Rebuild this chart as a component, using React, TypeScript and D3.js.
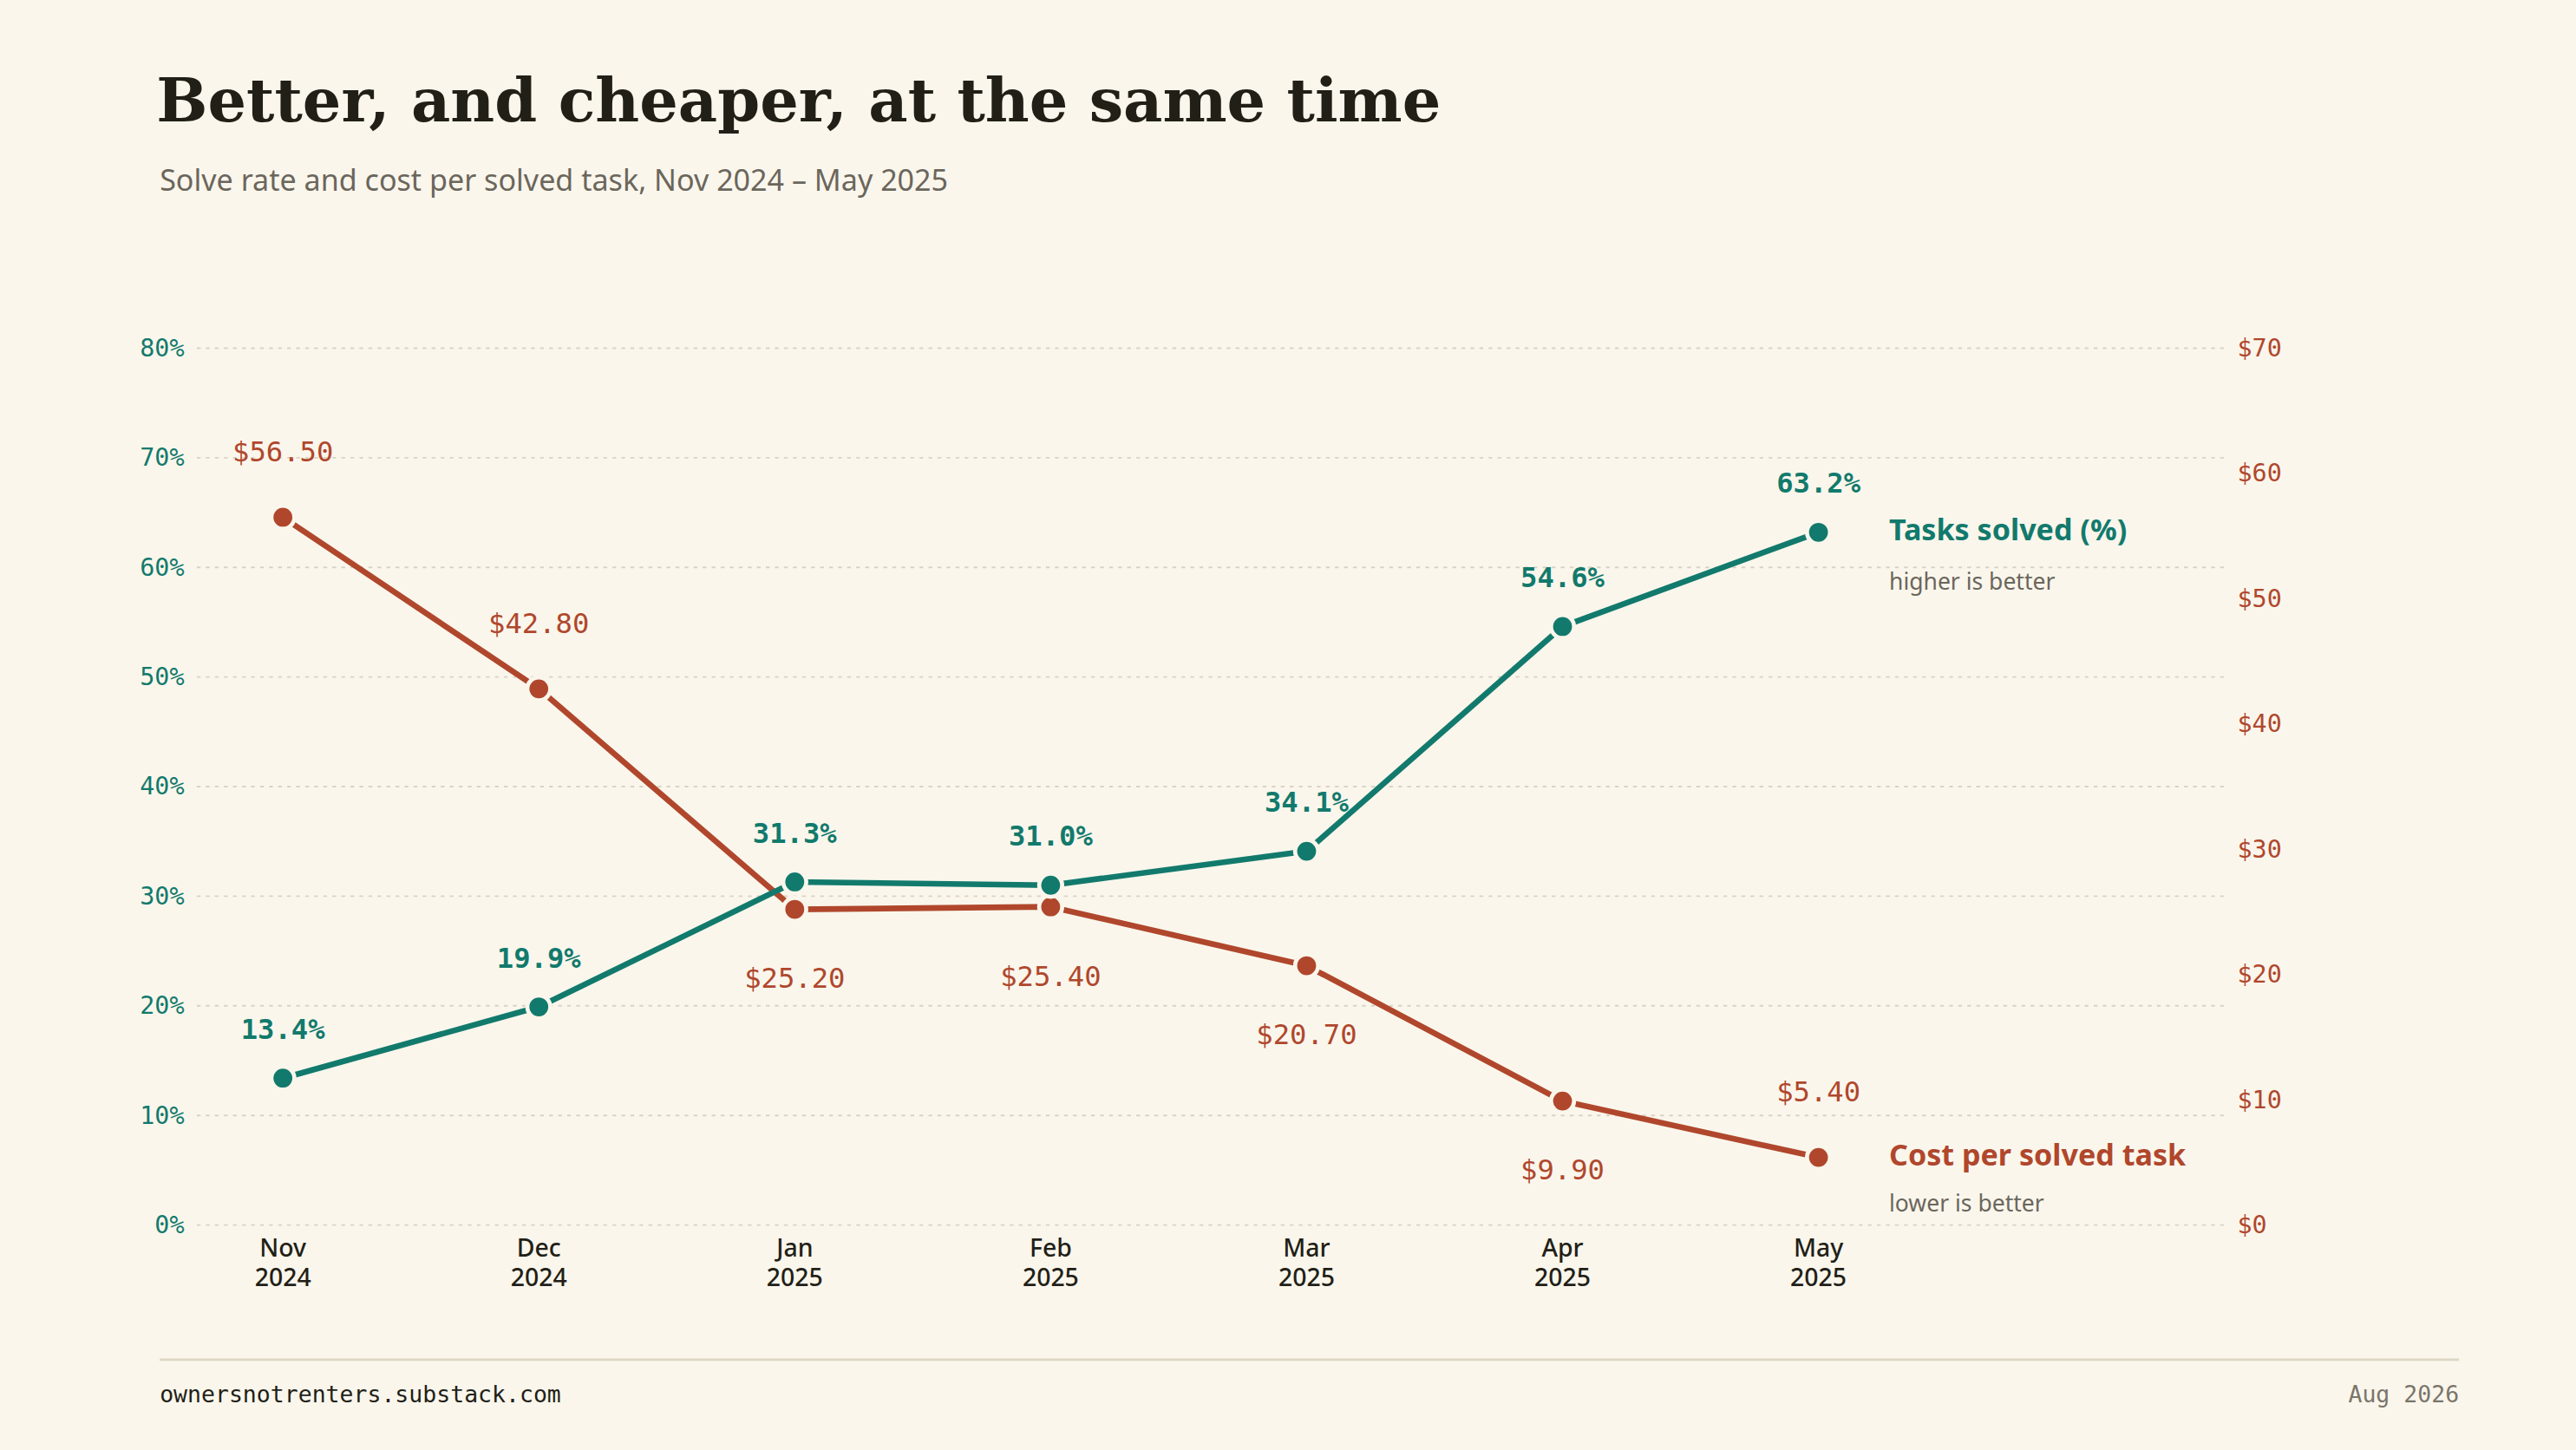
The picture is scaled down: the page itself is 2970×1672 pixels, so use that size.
import React from 'react';
import * as d3 from 'd3';

const months = ['Nov\n2024', 'Dec\n2024', 'Jan\n2025', 'Feb\n2025', 'Mar\n2025', 'Apr\n2025', 'May\n2025'];
const solved = [13.4, 19.9, 31.3, 31.0, 34.1, 54.6, 63.2];
const cost = [56.5, 42.8, 25.2, 25.4, 20.7, 9.9, 5.4];
const costLabelBelow = [false, false, true, true, true, true, false];
const pctTicks = [0, 10, 20, 30, 40, 50, 60, 70, 80];
const costTicks = [0, 10, 20, 30, 40, 50, 60, 70];

const W = 1568, H = 883;
const BG = '#faf6ec';
const TEAL = '#127a6c';
const RUST = '#b0472c';
const MONO = '"DejaVu Sans Mono", "Liberation Mono", monospace';
const SANS = '"Noto Sans", "Open Sans", sans-serif';
const SERIF = '"DejaVu Serif", "Liberation Serif", serif';

function App() {
  const x = d3.scalePoint<number>().domain(d3.range(months.length)).range([172, 1107]);
  const yL = d3.scaleLinear().domain([0, 80]).range([746, 212]);
  const yR = d3.scaleLinear().domain([0, 70]).range([746, 212]);
  const lineL = d3.line<number>().x((_, i) => x(i)!).y(d => yL(d));
  const lineR = d3.line<number>().x((_, i) => x(i)!).y(d => yR(d));

  return (
    <div style={{ position: 'fixed', left: 0, top: 0, width: 2970, height: 1672, background: BG }}>
      <svg width={2970} height={1672} viewBox={`0 0 ${W} ${H}`} style={{ display: 'block' }}>
        <rect width={W} height={H} fill={BG} />
        <text x={95} y={74} fontFamily={SERIF} fontWeight="bold" fontSize={37} fill="#221f17">
          Better, and cheaper, at the same time
        </text>
        <text x={97} y={116} fontFamily={SANS} fontSize={18} fill="#6b665c">
          Solve rate and cost per solved task, Nov 2024 – May 2025
        </text>

        {pctTicks.map(t => (
          <g key={t}>
            <line x1={120} x2={1355} y1={yL(t)} y2={yL(t)} stroke="#d9d3c4" strokeWidth={1}
              strokeDasharray="1.5 4" strokeLinecap="round" />
            <text x={112} y={yL(t) + 5} textAnchor="end" fontFamily={MONO} fontSize={15} fill={TEAL}>{t}%</text>
          </g>
        ))}
        {costTicks.map(t => (
          <text key={t} x={1362} y={yR(t) + 5} fontFamily={MONO} fontSize={15} fill={RUST}>${t}</text>
        ))}

        {months.map((m, i) => (
          <text key={m} x={x(i)} y={765} textAnchor="middle" fontFamily={SANS} fontSize={15} fontWeight={500} fill="#221f17">
            {m.split('\n').map((s, j) => <tspan key={j} x={x(i)} dy={j ? 18 : 0}>{s}</tspan>)}
          </text>
        ))}

        <path d={lineR(cost)!} fill="none" stroke={RUST} strokeWidth={3.5} strokeLinejoin="round" />
        <path d={lineL(solved)!} fill="none" stroke={TEAL} strokeWidth={3.5} strokeLinejoin="round" />

        {cost.map((d, i) => (
          <g key={'c' + i}>
            <circle cx={x(i)} cy={yR(d)} r={7} fill={RUST} stroke={BG} strokeWidth={2.5} />
            <text x={x(i)} y={yR(d) + (costLabelBelow[i] ? 48 : -34)} textAnchor="middle"
              fontFamily={MONO} fontSize={17} fill={RUST}>${d.toFixed(2)}</text>
          </g>
        ))}
        {solved.map((d, i) => (
          <g key={'s' + i}>
            <circle cx={x(i)} cy={yL(d)} r={7} fill={TEAL} stroke={BG} strokeWidth={2.5} />
            <text x={x(i)} y={yL(d) - 24} textAnchor="middle" fontFamily={MONO} fontSize={17}
              fontWeight="bold" fill={TEAL}>{d.toFixed(1)}%</text>
          </g>
        ))}

        <text x={1150} y={329} fontFamily={SANS} fontSize={18} fontWeight="bold" fill={TEAL}>Tasks solved (%)</text>
        <text x={1150} y={359} fontFamily={SANS} fontSize={14} fill="#6b665c">higher is better</text>
        <text x={1150} y={710} fontFamily={SANS} fontSize={18} fontWeight="bold" fill={RUST}>Cost per solved task</text>
        <text x={1150} y={738} fontFamily={SANS} fontSize={14} fill="#6b665c">lower is better</text>

        <line x1={97} x2={1497} y1={828} y2={828} stroke="#ddd6c3" strokeWidth={1.5} />
        <text x={97} y={854} fontFamily={MONO} fontSize={14} fill="#221f17">ownersnotrenters.substack.com</text>
        <text x={1497} y={854} textAnchor="end" fontFamily={MONO} fontSize={14} fill="#7a756a">Aug 2026</text>
      </svg>
    </div>
  );
}

export default App;
